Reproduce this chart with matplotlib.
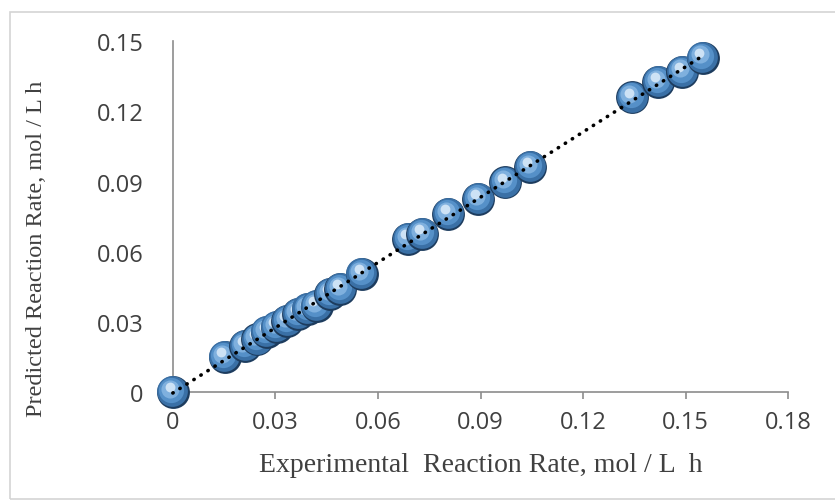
"""Parity plot: predicted vs experimental reaction rate."""
import numpy as np
import matplotlib
matplotlib.use("Agg")
import matplotlib.pyplot as plt
from matplotlib.patches import Rectangle
from matplotlib.transforms import ScaledTranslation


exp_rate = [0.0, 0.0152, 0.0211, 0.0246, 0.0275, 0.0304, 0.0334, 0.0366,
            0.0395, 0.0421, 0.0460, 0.0489, 0.0553, 0.0688, 0.0729, 0.0805,
            0.0893, 0.0972, 0.1045, 0.1343, 0.1420, 0.1490, 0.1550]
pred_rate = [0.0, 0.0150, 0.0197, 0.0226, 0.0256, 0.0278, 0.0303, 0.0333,
             0.0355, 0.0368, 0.0419, 0.0440, 0.0504, 0.0654, 0.0675, 0.0761,
             0.0825, 0.0897, 0.0962, 0.1260, 0.1325, 0.1370, 0.1430]

x_ticks = [0, 0.03, 0.06, 0.09, 0.12, 0.15, 0.18]
x_ticklabels = ["0", "0.03", "0.06", "0.09", "0.12", "0.15", "0.18"]
y_ticks = [0, 0.03, 0.06, 0.09, 0.12, 0.15]
y_ticklabels = ["0", "0.03", "0.06", "0.09", "0.12", "0.15"]

AXIS_GREY = "#8c8c8c"
TEXT_GREY = "#404040"

fig = plt.figure(figsize=(8.35, 5.02), dpi=100)
ax = fig.add_axes([0.207, 0.217, 0.737, 0.699])

# outer chart border (Excel style)
fig.patches.append(Rectangle((10 / 835, 2 / 502), 1.2, 487 / 502,
                             transform=fig.transFigure, fill=False,
                             edgecolor="#d4d4d4", lw=1.2))

# "3d" sphere markers: stacked discs, each point drawn as one group
layers = [  # size, colour, offset in points (dx, dy)
    (560, "#1d3c5e", (0.0, 0.0)),
    (490, "#3a70a6", (-0.3, 0.5)),
    (330, "#5590c8", (-1.0, 1.4)),
    (170, "#7fb0de", (-1.8, 2.4)),
    (50, "#cde2f5", (-2.4, 3.4)),
]
for i, (xv, yv) in enumerate(zip(exp_rate, pred_rate)):
    for j, (s, c, (dx, dy)) in enumerate(layers):
        tr = ax.transData + ScaledTranslation(dx / 72, dy / 72, fig.dpi_scale_trans)
        ax.scatter([xv], [yv], s=s, c=c, lw=0, transform=tr,
                   zorder=3 + i * 0.01 + j * 0.001, clip_on=False)

# linear trendline, drawn over the markers
k, b = np.polyfit(exp_rate, pred_rate, 1)
xl = np.array([min(exp_rate), max(exp_rate)])
ax.plot(xl, k * xl + b, color="black", lw=2.6, linestyle=(0, (0.1, 2.2)),
        dash_capstyle="round", zorder=5, clip_on=False)

ax.set_xlim(0, 0.18)
ax.set_ylim(0, 0.15)
ax.set_xticks(x_ticks)
ax.set_xticklabels(x_ticklabels)
ax.set_yticks(y_ticks)
ax.set_yticklabels(y_ticklabels)

for side in ("top", "right"):
    ax.spines[side].set_visible(False)
for side in ("left", "bottom"):
    ax.spines[side].set_color(AXIS_GREY)
    ax.spines[side].set_linewidth(1.2)
ax.tick_params(axis="x", direction="out", length=5, width=1.2,
               color=AXIS_GREY, pad=8, labelsize=17, labelcolor=TEXT_GREY)
ax.tick_params(axis="y", direction="out", length=0, width=1.2,
               color=AXIS_GREY, pad=21, labelsize=17, labelcolor=TEXT_GREY)
for lab in ax.get_xticklabels() + ax.get_yticklabels():
    lab.set_family("Open Sans")

ax.set_xlabel("Experimental  Reaction Rate, mol / L  h", family="Liberation Serif",
              fontsize=20, color=TEXT_GREY)
ax.xaxis.set_label_coords(0.5, -0.17)
ax.set_ylabel("Predicted Reaction Rate, mol / L h", family="Liberation Serif",
              fontsize=17.5, color=TEXT_GREY)
ax.yaxis.set_label_coords(-0.205, 0.41)

fig.savefig("out.png", dpi=100)
